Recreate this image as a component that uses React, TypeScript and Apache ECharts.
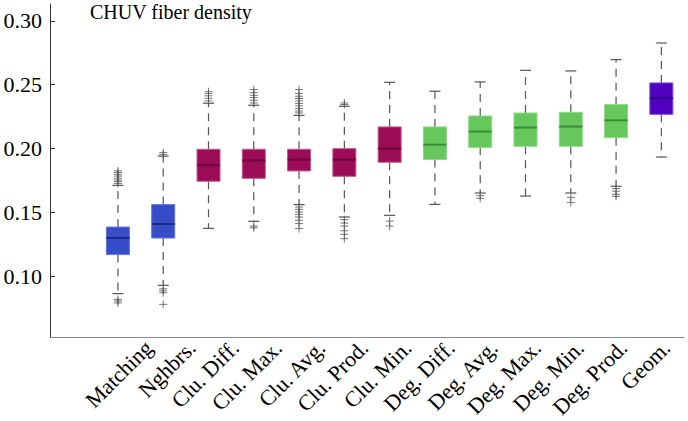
import React, { useEffect, useRef } from 'react';
import * as echarts from 'echarts';

const categories = [
  'Matching', 'Nghbrs.', 'Clu. Diff.', 'Clu. Max.', 'Clu. Avg.', 'Clu. Prod.', 'Clu. Min.',
  'Deg. Diff.', 'Deg. Avg.', 'Deg. Max.', 'Deg. Min.', 'Deg. Prod.', 'Geom.',
];
const families = [
  'baseline', 'baseline', 'clu', 'clu', 'clu', 'clu', 'clu',
  'deg', 'deg', 'deg', 'deg', 'deg', 'geom',
];
const whiskerLow = [0.0862, 0.0927, 0.1374, 0.1429, 0.1560, 0.1463, 0.1476, 0.1562, 0.1651, 0.1627, 0.1651, 0.1704, 0.1933];
const q1 = [0.1168, 0.1298, 0.1743, 0.1766, 0.1824, 0.1782, 0.1892, 0.1913, 0.2009, 0.2017, 0.2017, 0.2085, 0.2268];
const median = [0.1298, 0.1408, 0.1868, 0.1907, 0.1913, 0.1913, 0.1999, 0.2030, 0.2133, 0.2164, 0.2172, 0.2221, 0.2394];
const q3 = [0.1384, 0.1560, 0.1994, 0.1994, 0.1994, 0.1999, 0.2169, 0.2169, 0.2255, 0.2278, 0.2284, 0.2344, 0.2514];
const whiskerHigh = [0.1711, 0.1940, 0.2355, 0.2339, 0.2260, 0.2331, 0.2519, 0.2449, 0.2522, 0.2613, 0.2608, 0.2697, 0.2827];
const outliers: number[][] = [
  [0.1726, 0.1741, 0.1753, 0.1768, 0.1784, 0.1797, 0.1812, 0.1824, 0.0817, 0.0804, 0.0789],
  [0.1953, 0.1968, 0.0900, 0.0884, 0.0869, 0.0778],
  [0.2373, 0.2394, 0.2413, 0.2431, 0.2445],
  [0.2357, 0.2378, 0.2399, 0.2417, 0.2438, 0.2462, 0.1392, 0.1378],
  [0.2279, 0.2294, 0.2313, 0.2334, 0.2353, 0.2373, 0.2392, 0.2410, 0.2431, 0.2462,
    0.1541, 0.1523, 0.1502, 0.1484, 0.1463, 0.1437, 0.1411, 0.1372],
  [0.2345, 0.2357, 0.1442, 0.1415, 0.1392, 0.1355, 0.1327, 0.1293],
  [0.1431, 0.1392],
  [],
  [0.1630, 0.1609],
  [],
  [0.1617, 0.1576],
  [0.1686, 0.1665, 0.1641, 0.1625],
  [],
];
const yTicks = [0.10, 0.15, 0.20, 0.25, 0.30];
const chartTitle = 'CHUV fiber density';

const familyColor: Record<string, { fill: string; edge: string; median: string }> = {
  baseline: { fill: '#374dc8', edge: '#6476d6', median: '#1c2a86' },
  clu: { fill: '#9c0b56', edge: '#c25a8e', median: '#66043a' },
  deg: { fill: '#66c75c', edge: '#8ed886', median: '#3b8a36' },
  geom: { fill: '#5200c2', edge: '#7d4ad4', median: '#2e0080' },
};

const FONT = 'Liberation Serif';

export default function App() {
  const ref = useRef<HTMLDivElement>(null);
  useEffect(() => {
    if (!ref.current) return;
    const chart = echarts.init(ref.current, null, { renderer: 'svg' });
    const boxData = categories.map((_, i) => [i + 1, whiskerLow[i], q1[i], median[i], q3[i], whiskerHigh[i]]);
    const outlierData: number[][] = [];
    outliers.forEach((arr, i) => arr.forEach((v) => outlierData.push([i + 1, v])));
    const catValues = categories.map((_, i) => i + 1);
    const labelShift = 34;

    chart.setOption({
      animation: false,
      title: {
        text: chartTitle,
        left: 90,
        top: 2,
        padding: 0,
        textStyle: { fontFamily: FONT, fontSize: 20, fontWeight: 'normal', color: '#000' },
      },
      grid: [
        { left: 50, width: 634, top: 4, bottom: 84 },
        { left: 50 + labelShift, width: 634, top: 4, bottom: 84 },
      ],
      xAxis: [
        {
          type: 'value',
          gridIndex: 0,
          min: -0.5,
          max: 13.5,
          position: 'bottom',
          axisLine: { show: true, onZero: false, lineStyle: { color: '#8a8a8a', width: 1 } },
          axisTick: { show: false },
          axisLabel: { show: false },
          splitLine: { show: false },
        },
        {
          type: 'value',
          gridIndex: 1,
          min: -0.5,
          max: 13.5,
          position: 'bottom',
          axisLine: { show: false },
          axisTick: { show: false },
          splitLine: { show: false },
          axisLabel: {
            show: true,
            rotate: 45,
            margin: 14,
            customValues: catValues,
            fontFamily: FONT,
            fontSize: 22,
            color: '#000',
            formatter: (v: number) => categories[Math.round(v) - 1] ?? '',
          },
        },
      ],
      yAxis: [
        {
          type: 'value',
          gridIndex: 0,
          min: 0.0522,
          max: 0.3133,
          axisLine: { show: true, onZero: false, lineStyle: { color: '#333', width: 1 } },
          axisTick: { show: true, inside: true, length: 5, customValues: yTicks, lineStyle: { color: '#333' } },
          splitLine: { show: false },
          axisLabel: {
            show: true,
            customValues: yTicks,
            margin: 8,
            fontFamily: FONT,
            fontSize: 22,
            color: '#000',
            formatter: (v: number) => v.toFixed(2),
          },
        },
        {
          type: 'value',
          gridIndex: 1,
          min: 0.0522,
          max: 0.3133,
          show: false,
        },
      ],
      series: [
        {
          type: 'custom',
          xAxisIndex: 0,
          yAxisIndex: 0,
          encode: { x: 0, y: [1, 2, 3, 4, 5] },
          data: boxData,
          renderItem: (params: any, api: any) => {
            const x = api.value(0);
            const pLo = api.coord([x, api.value(1)]);
            const pQ1 = api.coord([x, api.value(2)]);
            const pMed = api.coord([x, api.value(3)]);
            const pQ3 = api.coord([x, api.value(4)]);
            const pHi = api.coord([x, api.value(5)]);
            const cx = pMed[0];
            const c = familyColor[families[params.dataIndex]];
            const half = 11.5;
            const cap = 5.5;
            const ws = { stroke: '#555', lineWidth: 1.2, lineDash: [8, 6], fill: null };
            const cs = { stroke: '#555', lineWidth: 1.2, fill: null };
            return {
              type: 'group',
              children: [
                { type: 'line', shape: { x1: cx, y1: pQ3[1], x2: cx, y2: pHi[1] }, style: ws },
                { type: 'line', shape: { x1: cx, y1: pQ1[1], x2: cx, y2: pLo[1] }, style: ws },
                { type: 'line', shape: { x1: cx - cap, y1: pHi[1], x2: cx + cap, y2: pHi[1] }, style: cs },
                { type: 'line', shape: { x1: cx - cap, y1: pLo[1], x2: cx + cap, y2: pLo[1] }, style: cs },
                {
                  type: 'rect',
                  shape: { x: cx - half, y: pQ3[1], width: 2 * half, height: pQ1[1] - pQ3[1] },
                  style: { fill: c.fill, stroke: c.edge, lineWidth: 1 },
                },
                {
                  type: 'line',
                  shape: { x1: cx - half, y1: pMed[1], x2: cx + half, y2: pMed[1] },
                  style: { stroke: c.median, lineWidth: 2 },
                },
              ],
            };
          },
        },
        {
          type: 'scatter',
          xAxisIndex: 0,
          yAxisIndex: 0,
          data: outlierData,
          symbol: 'path://M0,4L8,4M4,0L4,8',
          symbolSize: [8, 8],
          itemStyle: { color: 'transparent', borderColor: '#555', borderWidth: 1 },
        },
      ],
    });
    return () => chart.dispose();
  }, []);
  return <div ref={ref} style={{ position: 'absolute', left: 0, top: 0, width: 688, height: 421 }} />;
}
